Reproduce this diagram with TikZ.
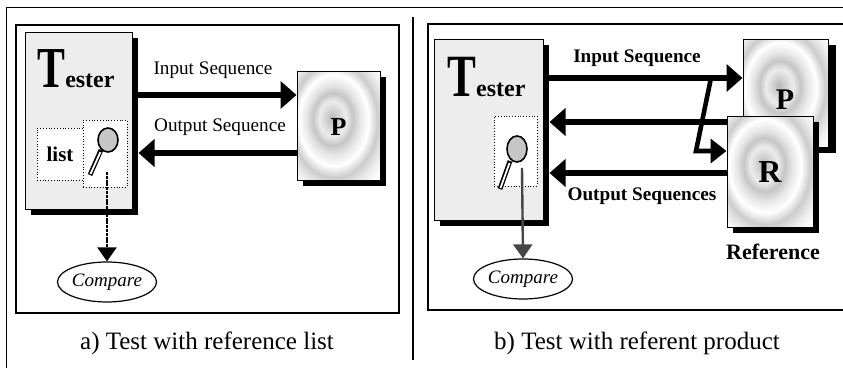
\documentclass[tikz,border=0pt]{standalone}
\usepackage{graphicx}
\usepackage{fontspec}
\setmainfont{Liberation Serif}
\usetikzlibrary{arrows.meta,shapes.geometric,shadows,positioning}

\pgfdeclareradialshading{ripple}{\pgfpoint{-4bp}{4bp}}{color(0bp)=(gray!55); color(4bp)=(gray!35); color(8bp)=(gray!15); color(12bp)=(gray!45); color(16bp)=(gray!20); color(21bp)=(white); color(26bp)=(gray!40); color(31bp)=(gray!15); color(36bp)=(white); color(42bp)=(gray!40); color(48bp)=(gray!20); color(55bp)=(gray!60); color(75bp)=(gray!70)}

\begin{document}
\begin{tikzpicture}[x=0.5pt,y=-0.5pt,
	boxshadow/.style={draw,line width=0.5pt,drop shadow={shadow xshift=3pt,shadow yshift=-2.5pt,fill=black,opacity=1}},
	testerbox/.style={boxshadow,fill=gray!14,inner sep=0pt},
	dutbox/.style={boxshadow,shading=ripple,inner sep=0pt,font=\bfseries\fontsize{13}{13}\selectfont},
	dotbox/.style={draw,densely dotted,fill=white,inner sep=0pt},
	seqarrow/.style={line width=2.6pt,-{Triangle[length=8pt,width=13.5pt]}},
	cmparrow/.style={line width=1.2pt,-{Triangle[length=7pt,width=9.5pt]}},
	cmpnode/.style={draw,ellipse,line width=0.6pt,inner sep=0pt,minimum width=47pt,minimum height=20pt,font=\itshape\fontsize{9.5}{9.5}\selectfont},
	seqlabel/.style={font=\fontsize{9.6}{9.6}\selectfont},
	caption/.style={anchor=base,font=\fontsize{12.5}{12.5}\selectfont}]

	\useasboundingbox (0,0) rectangle (843,368);
	\clip (0,0) rectangle (843,368);

	\draw[line width=0.8pt] (6.5,380) -- (6.5,7.5) -- (860,7.5);
	\draw[line width=0.8pt] (413,17) -- (413,360);
	\draw[line width=0.6pt] (16,25) rectangle (399,313);
	\draw[line width=0.6pt] (428,24) rectangle (870,310);

	% left: tester holding the expected list
	\node[testerbox,minimum width=53.5pt,minimum height=88.5pt] (tester) at (78.5,121.5) {};
	\node[anchor=base west,inner sep=0pt] (tname) at (37,88) {\bfseries\scalebox{0.72}[1]{\fontsize{29}{29}\selectfont T}\fontsize{12}{12}\selectfont ester};
	\node[dotbox,minimum width=23pt,minimum height=26pt,font=\bfseries\fontsize{10.5}{10.5}\selectfont] (list) at (60,154) {list};
	\node[dotbox,minimum width=22pt,minimum height=33.5pt] (mag) at (105,153.5) {};
	\draw[line width=2.4pt] (101,150) -- (90,175);
	\draw[white,line width=0.9pt] (100.5,152) -- (90.5,174);
	\draw[fill=gray!45,line width=0.8pt] (108,140) ellipse (5pt and 6pt);
	\coordinate (lens) at (107,172);

	\node[cmpnode] (cmp) at (107,282) {Compare};
	\draw[cmparrow,dash pattern=on 1.5pt off 0.4pt] (lens) -- (cmp.north);

	\node[dutbox,minimum width=41.5pt,minimum height=54.5pt] (prod) at (338.5,126.5) {P};
	\coordinate (tedge) at ([xshift=3pt]tester.east);
	\draw[seqarrow] (tester.east |- 0,95) -- (prod.west |- 0,95);
	\draw[seqarrow] (prod.west |- 0,153) -- (tedge |- 0,153);
	\node[seqlabel] (inseq) at (213,70) {Input Sequence};
	\node[seqlabel] (outseq) at (220,127) {Output Sequence};

	\node[caption] (capa) at (207,350) {a) Test with reference list};

	% right: tester driving product and reference
	\node[testerbox,minimum width=54.5pt,minimum height=90.5pt] (tester2) at (488.5,130.5) {};
	\node[anchor=base west,inner sep=0pt] (tname2) at (447,97) {\bfseries\scalebox{0.72}[1]{\fontsize{30}{30}\selectfont T}\fontsize{12}{12}\selectfont ester};
	\node[dotbox,minimum width=21.5pt,minimum height=35pt] (mag2) at (515.5,151) {};
	\draw[line width=2.4pt] (510,161) -- (500,189);
	\draw[white,line width=0.9pt] (509.5,163) -- (500.5,188);
	\draw[fill=gray!45,line width=0.8pt] (517,149) ellipse (5pt and 6.5pt);
	\coordinate (lens2) at (522,168);

	\node[cmpnode] (cmp2) at (523,279) {Compare};
	\draw[cmparrow,gray!55!black] (lens2) -- (cmp2.north);

	\node[dutbox,minimum width=42.5pt,minimum height=54pt,drop shadow={shadow xshift=4pt,shadow yshift=-2.5pt,fill=black,opacity=1}] (prodp) at (785.5,94) {};
	\node[font=\bfseries\fontsize{15}{15}\selectfont,inner sep=0pt] (plabel) at (785,100) {P};
	\node[dutbox,minimum width=43pt,minimum height=55.5pt,font=\bfseries\fontsize{16}{16}\selectfont] (refr) at (770,172.5) {R};
	\node[font=\bfseries\fontsize{11}{11}\selectfont] (reflabel) at (773,252) {Reference};

	\coordinate (tedge2) at ([xshift=3pt]tester2.east);
	\coordinate (fork) at (711,78);
	\coordinate (bend) at (696,151);
	\draw[seqarrow] (tester2.east |- 0,78) -- (prodp.west |- 0,78);
	\draw[line width=2.3pt,-{Triangle[length=8pt,width=12pt]}] (fork) -- (bend) -- (refr.west |- bend);
	\draw[seqarrow] (refr.west |- 0,122) -- (tedge2 |- 0,122);
	\draw[seqarrow] (refr.west |- 0,173) -- (tedge2 |- 0,173);
	\node[seqlabel,font=\bfseries\fontsize{9.6}{9.6}\selectfont] (inseq2) at (637,58) {Input Sequence};
	\node[seqlabel,font=\bfseries\fontsize{9.6}{9.6}\selectfont] (outseq2) at (642,196) {Output Sequences};

	\node[caption] (capb) at (637,350) {b) Test with referent product};

\end{tikzpicture}
\end{document}
